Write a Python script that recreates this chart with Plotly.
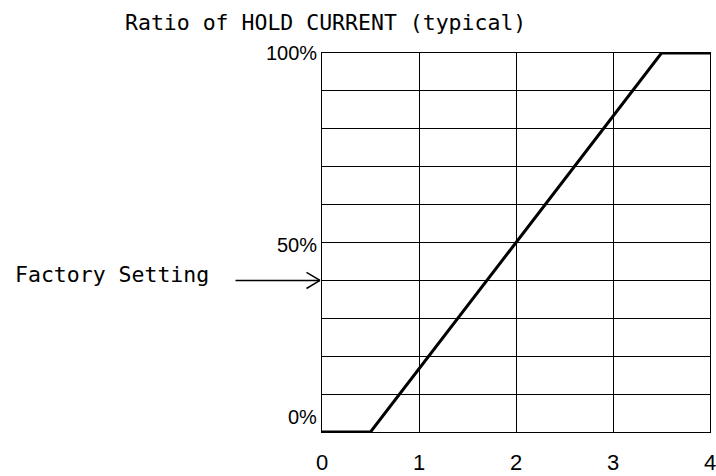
import plotly.graph_objects as go

# Data
x_vals = [0, 0.5, 3.5, 4]
y_vals = [0, 0, 100, 100]
x_ticks = [0, 1, 2, 3, 4]
x_tick_labels = ["0", "1", "2", "3", "4"]
y_label_vals = [0, 50, 100]
y_label_text = ["0%", "50%", "100%"]
factory_setting = 40
title_text = "Ratio of HOLD CURRENT (typical)"
factory_text = "Factory Setting"

W, H = 716, 476
L, R, T, B = 322, 6, 53, 44
pw = W - L - R

mono = "DejaVu Sans Mono, Liberation Mono, monospace"
narrow = "Liberation Sans, Arial, sans-serif"

fig = go.Figure()
fig.add_trace(go.Scatter(x=x_vals, y=y_vals, mode="lines",
                         line=dict(color="black", width=3), hoverinfo="skip",
                         cliponaxis=False))

fig.update_layout(
    width=W, height=H,
    margin=dict(l=L, r=R, t=T, b=B, autoexpand=False),
    paper_bgcolor="white", plot_bgcolor="white",
    showlegend=False,
    title=dict(text=title_text, x=125 / W, xanchor="left", y=1 - 22 / H,
               yanchor="middle", font=dict(family=mono, size=21.5, color="black")),
)
fig.update_xaxes(range=[0, 4], tickvals=x_ticks, ticktext=x_tick_labels,
                 showgrid=True, gridcolor="black", gridwidth=1,
                 showline=True, linecolor="black", linewidth=1, mirror=True,
                 ticks="", ticklabelstandoff=11, ticklabelshift=0,
                 ticklabeloverflow="allow",
                 tickfont=dict(family=narrow, size=22, color="black"),
                 zeroline=False, fixedrange=True, automargin=False)
fig.update_yaxes(range=[0, 100], dtick=10, showticklabels=False,
                 showgrid=True, gridcolor="black", gridwidth=1,
                 showline=True, linecolor="black", linewidth=1, mirror=True,
                 ticks="", zeroline=False, fixedrange=True, automargin=False)

yshifts = [15, -2, 0]
for v, t, s in zip(y_label_vals, y_label_text, yshifts):
    fig.add_annotation(x=-3 / pw, xref="paper", y=v, yref="y", text=t,
                       showarrow=False, xanchor="right", yanchor="middle",
                       yshift=s, font=dict(family=narrow, size=20, color="black"))

# Factory setting text
fig.add_annotation(x=(13 - L) / pw, xref="paper", y=factory_setting, yref="y",
                   text=factory_text, showarrow=False, xanchor="left",
                   yanchor="middle", yshift=6,
                   font=dict(family=mono, size=21.5, color="black"))

# Arrow (shaft + open chevron head)
for ax, ay in [(-86, 0), (-15, -9), (-15, 9)]:
    fig.add_annotation(x=0, xref="x", y=factory_setting, yref="y", text="",
                       showarrow=True, arrowhead=0, arrowwidth=1.5,
                       arrowcolor="black", ax=ax, ay=ay, xshift=-2,
                       standoff=0, startstandoff=0)

fig.write_html("out.html", config={"displayModeBar": False},
               post_script="document.body.style.margin='0';document.body.style.overflow='hidden';")
